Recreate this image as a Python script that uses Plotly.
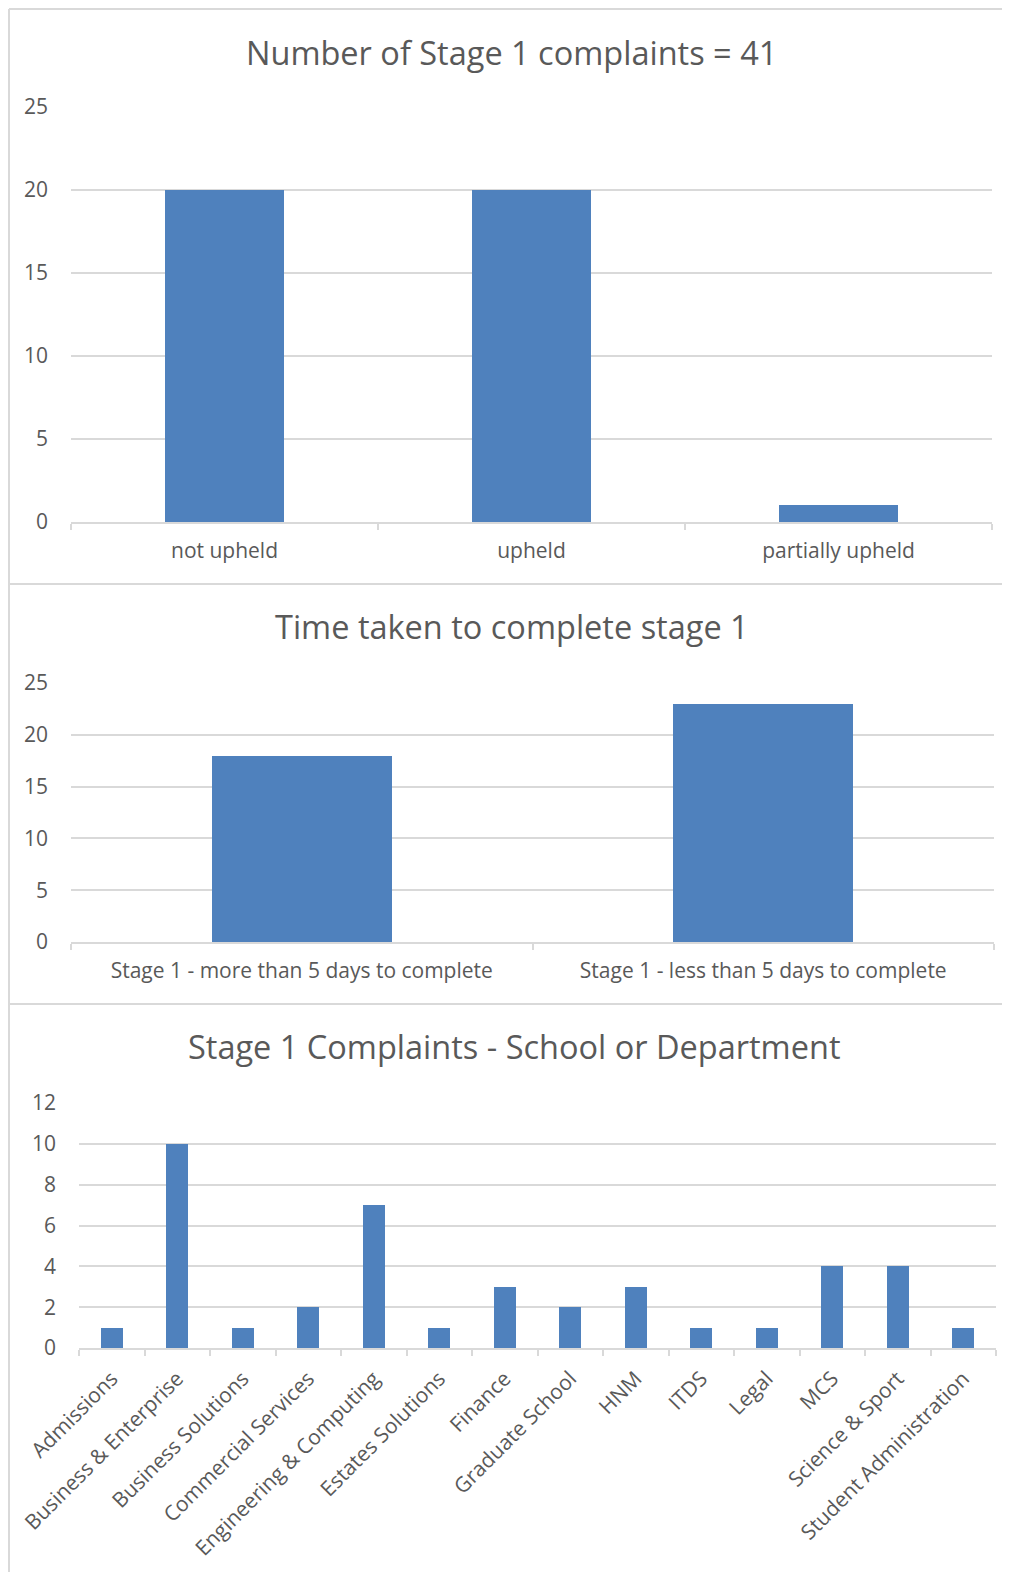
import plotly.graph_objects as go

# ---- data ----
outcome_cats = ["not upheld", "upheld", "partially upheld"]
outcome_vals = [20, 20, 1]

time_cats = ["Stage 1 - more than 5 days to complete", "Stage 1 - less than 5 days to complete"]
time_vals = [18, 23]

dept_cats = ["Admissions", "Business & Enterprise", "Business Solutions", "Commercial Services",
             "Engineering & Computing", "Estates Solutions", "Finance", "Graduate School", "HNM",
             "ITDS", "Legal", "MCS", "Science & Sport", "Student Administration"]
dept_vals = [1, 10, 1, 2, 7, 1, 3, 2, 3, 1, 1, 4, 4, 1]

titles = ["Number of Stage 1 complaints = 41", "Time taken to complete stage 1",
          "Stage 1 Complaints - School or Department"]

# ---- style ----
OFF = 8                      # default page body margin
W, H = 1010 - OFF, 1572 - OFF
BAR = "#4F81BD"
GRID = "#D9D9D9"
TXT = "#595959"
FONT = "Open Sans"
TICK_SIZE = 21

def px_x(x):
    return (x - OFF) / W

def px_y(y):
    return 1 - (y - OFF) / H

fig = go.Figure()
fig.add_trace(go.Bar(x=outcome_cats, y=outcome_vals, marker=dict(color=BAR, line=dict(width=0)),
                     width=0.385, xaxis="x", yaxis="y", hoverinfo="x+y"))
fig.add_trace(go.Bar(x=time_cats, y=time_vals, marker=dict(color=BAR, line=dict(width=0)),
                     width=0.39, xaxis="x2", yaxis="y2", hoverinfo="x+y"))
fig.add_trace(go.Bar(x=dept_cats, y=dept_vals, marker=dict(color=BAR, line=dict(width=0)),
                     width=0.34, xaxis="x3", yaxis="y3", hoverinfo="x+y"))

def xax(domain, anchor, angle=0, standoff=12):
    return dict(domain=domain, anchor=anchor, type="category", showline=True, linecolor=GRID,
                linewidth=2, ticks="outside", tickson="boundaries", ticklen=6, tickcolor=GRID,
                tickwidth=2, showgrid=False, tickangle=angle, ticklabelstandoff=standoff,
                tickfont=dict(family=FONT, size=TICK_SIZE, color=TXT), fixedrange=True,
                zeroline=False, automargin=False)

def yax(domain, anchor, rng, dtick):
    return dict(domain=domain, anchor=anchor, range=rng, dtick=dtick, showline=False,
                showgrid=True, gridcolor=GRID, gridwidth=1.5, zeroline=False, ticks="",
                ticklabelstandoff=22, tickfont=dict(family=FONT, size=TICK_SIZE, color=TXT),
                fixedrange=True, automargin=False)

fig.update_layout(
    width=W, height=H, margin=dict(l=0, r=0, t=0, b=0, autoexpand=False),
    paper_bgcolor="white", plot_bgcolor="white", showlegend=False, bargap=0,
    xaxis=xax([px_x(71), px_x(992)], "y", 0, 9),
    yaxis=yax([px_y(522), px_y(107)], "x", [0, 25], 5),
    xaxis2=xax([px_x(71), px_x(994)], "y2", 0, 9),
    yaxis2=yax([px_y(942), px_y(683)], "x2", [0, 25], 5),
    xaxis3=xax([px_x(79), px_x(996)], "y3", -45, 8),
    yaxis3=yax([px_y(1348), px_y(1103)], "x3", [0, 12], 2),
)

title_pos = [(512, 52), (512, 627), (514, 1046)]
for t, (tx, ty) in zip(titles, title_pos):
    fig.add_annotation(text=t, xref="paper", yref="paper", x=px_x(tx), y=px_y(ty),
                       xanchor="center", yanchor="middle", showarrow=False,
                       font=dict(family=FONT, size=32.5, color=TXT))

# panel borders
border = dict(color=GRID, width=2)
fig.add_shape(type="line", xref="paper", yref="paper", x0=px_x(9), x1=px_x(9), y0=0, y1=px_y(9), line=border)
for yy in (9, 584, 1004):
    fig.add_shape(type="line", xref="paper", yref="paper", x0=px_x(9), x1=1, y0=px_y(yy), y1=px_y(yy), line=border)

fig.write_html("out.html")
